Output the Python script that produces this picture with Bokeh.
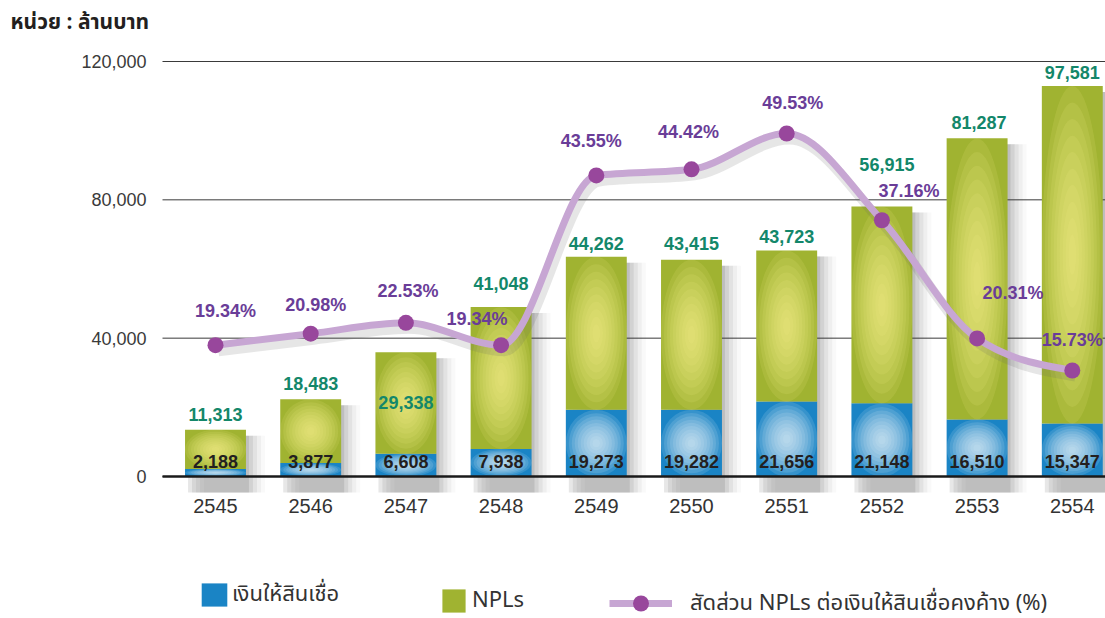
import numpy as np
from bokeh.plotting import figure
from bokeh.models import (Range1d, FixedTicker, NumeralTickFormatter, Legend,
                          LegendItem, Label, ColumnDataSource, LinearAxis)
from bokeh.core.properties import value
from bokeh.embed import file_html
from bokeh.resources import INLINE

# ---------------- data ----------------
years = ["2545", "2546", "2547", "2548", "2549", "2550", "2551", "2552", "2553", "2554"]
loans = [2188, 3877, 6608, 7938, 19273, 19282, 21656, 21148, 16510, 15347]
npls = [11313, 18483, 29338, 41048, 44262, 43415, 43723, 56915, 81287, 97581]
ratio = [19.34, 20.98, 22.53, 19.34, 43.55, 44.42, 49.53, 37.16, 20.31, 15.73]
y_ticks = [0, 40000, 80000, 120000]

# -------------- layout (pixels) --------------
W, H = 1105, 618
AREA_LEFT = 162          # where grid / axis line start
X0_PX, DX_PX = 215, 95.2  # centre of first bar, spacing
Y0_PX, YTOP_PX = 476, 61  # pixel rows of 0 and 120,000
P_A, P_B = 480.3, 7.012   # ratio axis: row = P_A - P_B * pct
K = (Y0_PX - YTOP_PX) / 120000.0

npl_dy = [15, 16, -50, 24, 13, 16, 14, 42, 16, 13]
npl_dx = [0, 0, 0, 0, 0, 0, 0, 5, 2, 0]
pct_dx = [10, 5, 2, -24, -5, -3, 6, 27, 36, 0]
pct_dy = [34, 29, 32, 26, 34, 37, 30, 29, 45, 31]

NUM_FONT = "Liberation Sans"
THAI_FONT = "Noto Sans Thai, Loma, Garuda, Tlwg Typo, sans-serif"

x = np.arange(len(years))
totals = [a + b for a, b in zip(loans, npls)]

x_start = (0 - X0_PX) / DX_PX
x_end = (W - X0_PX) / DX_PX
x_left = (AREA_LEFT - X0_PX) / DX_PX
y_start = -(H - Y0_PX) / K
y_end = Y0_PX / K

p = figure(width=W, height=H, output_backend="svg", toolbar_location=None,
           x_range=Range1d(x_start, x_end), y_range=Range1d(y_start, y_end),
           min_border_left=0, min_border_right=0, min_border_top=0,
           min_border_bottom=0, x_axis_location=None, y_axis_location=None)
p.title.visible = False
p.outline_line_color = None
p.grid.visible = False
p.extra_y_ranges = {"pct": Range1d((P_A - H) / P_B, P_A / P_B)}

# axes drawn at fixed locations inside the canvas
xaxis = LinearAxis(fixed_location=0, bounds=(x_left, x_end),
                   ticker=FixedTicker(ticks=list(x)),
                   major_label_overrides={int(i): y for i, y in zip(x, years)},
                   major_tick_line_color=None, minor_tick_line_color=None,
                   axis_line_color="#1a1a1a", axis_line_width=2.5,
                   major_label_text_font_size="20px",
                   major_label_text_font=NUM_FONT,
                   major_label_text_color="#333333", major_label_standoff=16)
p.add_layout(xaxis, "below")
yaxis = LinearAxis(fixed_location=x_left, ticker=FixedTicker(ticks=y_ticks),
                   formatter=NumeralTickFormatter(format="0,0"),
                   axis_line_color=None, major_tick_line_color=None,
                   minor_tick_line_color=None, major_label_text_font_size="18px",
                   major_label_text_font=NUM_FONT,
                   major_label_text_color="#3a3a3a", major_label_standoff=10)
p.add_layout(yaxis, "left")

# horizontal grid lines (start at the plot-area left edge)
p.segment(x0=[x_left] * len(y_ticks), x1=[x_end] * len(y_ticks), y0=y_ticks,
          y1=y_ticks, line_color="#3a3a3a", line_width=1)

BW = 0.64

# bar shadows
for off_px, a in [(3, 0.13), (7, 0.10), (11, 0.07), (15, 0.05), (19, 0.03)]:
    p.vbar(x=x + off_px / DX_PX, bottom=-16 / K,
           top=[t - 6 / K for t in totals], width=BW,
           fill_color="#444444", fill_alpha=a, line_color=None)

# bars
blue_r = p.vbar(x=x, bottom=0, top=loans, width=BW, fill_color="#1a84c5",
                line_color=None)
green_r = p.vbar(x=x, bottom=loans, top=totals, width=BW, fill_color="#a0b331",
                 line_color=None)

# radial glow (concentric ellipses)
scales = np.linspace(1.0, 0.12, 10)
gx, gy, gw, gh = [], [], [], []
bx, by, bw_, bh = [], [], [], []
for i in range(len(years)):
    for s in scales:
        gx.append(x[i]); gy.append((loans[i] + totals[i]) / 2)
        gw.append(BW * s); gh.append(npls[i] * s)
        bx.append(x[i]); by.append(loans[i] / 2)
        bw_.append(BW * s); bh.append(loans[i] * s)
p.ellipse(x=gx, y=gy, width=gw, height=gh, fill_color="#fbf28e",
          fill_alpha=0.13, line_color=None)
p.ellipse(x=bx, y=by, width=bw_, height=bh, fill_color="#e6f3fb",
          fill_alpha=0.14, line_color=None)

# smooth (monotone) curve for ratio
xs = list(map(float, x))
ys = ratio
n = len(xs)
sec = [(ys[i + 1] - ys[i]) / (xs[i + 1] - xs[i]) for i in range(n - 1)]
tan = [0.0] * n
for i in range(1, n - 1):
    s0, s1 = sec[i - 1], sec[i]
    h0, h1 = xs[i] - xs[i - 1], xs[i + 1] - xs[i]
    pp = (s0 * h1 + s1 * h0) / (h0 + h1)
    tan[i] = (np.sign(s0) + np.sign(s1)) * min(abs(s0), abs(s1), 0.5 * abs(pp))
tan[0] = (3 * sec[0] - tan[1]) / 2
tan[-1] = (3 * sec[-1] - tan[-2]) / 2
b = dict(x0=[], y0=[], x1=[], y1=[], cx0=[], cy0=[], cx1=[], cy1=[])
for i in range(n - 1):
    d = (xs[i + 1] - xs[i]) / 3
    b["x0"].append(xs[i]); b["y0"].append(ys[i])
    b["x1"].append(xs[i + 1]); b["y1"].append(ys[i + 1])
    b["cx0"].append(xs[i] + d); b["cy0"].append(ys[i] + d * tan[i])
    b["cx1"].append(xs[i + 1] - d); b["cy1"].append(ys[i + 1] - d * tan[i + 1])

# shadow of curve
sh = {k: list(v) for k, v in b.items()}
for k in ("y0", "y1", "cy0", "cy1"):
    sh[k] = [v - 6 / P_B for v in sh[k]]
for k in ("x0", "x1", "cx0", "cx1"):
    sh[k] = [v + 3 / DX_PX for v in sh[k]]
p.bezier(source=ColumnDataSource(sh), x0="x0", y0="y0", x1="x1", y1="y1",
         cx0="cx0", cy0="cy0", cx1="cx1", cy1="cy1", line_color="#666666",
         line_alpha=0.16, line_width=10, y_range_name="pct")
p.bezier(source=ColumnDataSource(b), x0="x0", y0="y0", x1="x1", y1="y1",
         cx0="cx0", cy0="cy0", cx1="cx1", cy1="cy1", line_color="#c7a6d3",
         line_width=7, y_range_name="pct")
p.scatter(x=x, y=ratio, size=16, fill_color="#98479c", line_color=None,
          y_range_name="pct")

# labels
p.text(x=x, y=[0] * len(x), text=[f"{v:,}" for v in loans], y_offset=-15,
       text_align="center", text_baseline="middle", text_font=value(NUM_FONT),
       text_font_style="bold", text_font_size="18px", text_color="#231f20")
for i in range(len(x)):
    p.text(x=[x[i]], y=[totals[i]], text=[f"{npls[i]:,}"], y_offset=-npl_dy[i],
           x_offset=npl_dx[i], text_align="center", text_baseline="middle",
           text_font=value(NUM_FONT), text_font_style="bold",
           text_font_size="18px", text_color="#13876a")
    p.text(x=[x[i]], y=[ratio[i]], text=[f"{ratio[i]:.2f}%"], y_offset=-pct_dy[i],
           x_offset=pct_dx[i], text_align="center", text_baseline="middle",
           text_font=value(NUM_FONT), text_font_style="bold",
           text_font_size="18px", text_color="#6a3d98", y_range_name="pct")

# title
p.add_layout(Label(x=10, y=H - 22, x_units="screen", y_units="screen",
                   text="หน่วย : ล้านบาท", text_font=THAI_FONT,
                   text_font_style="bold", text_font_size="21px",
                   text_color="#231f20", text_baseline="middle"))

# legends
dummy_line = p.line(x=[np.nan], y=[np.nan], line_color="#c7a6d3", line_width=7)
dummy_pt = p.scatter(x=[np.nan], y=[np.nan], size=16, fill_color="#98479c",
                     line_color=None)


def mk_legend(label, rends, loc, gw, gh, standoff):
    lg = Legend(items=[LegendItem(label=value(label), renderers=rends)],
                location=loc, glyph_width=gw, glyph_height=gh,
                label_standoff=standoff, padding=0, margin=0, spacing=0,
                border_line_color=None, background_fill_alpha=0,
                label_text_font=THAI_FONT, label_text_font_size="22px",
                label_text_color="#333333")
    p.add_layout(lg)


mk_legend("เงินให้สินเชื่อ", [blue_r], (198, 7), 32, 29, 2)
mk_legend("NPLs", [green_r], (439, 1), 29, 29, 4)
mk_legend("สัดส่วน NPLs ต่อเงินให้สินเชื่อคงค้าง (%)", [dummy_line, dummy_pt],
          (609, -5), 63, 40, 18)

open("out.html", "w").write(file_html(p, INLINE))
